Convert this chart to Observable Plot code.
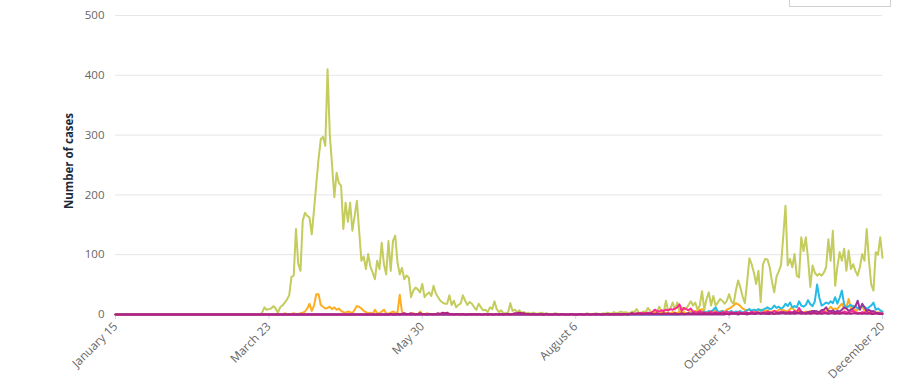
<!DOCTYPE html>
<html>
<head>
<meta charset="utf-8">
<script src="https://cdn.jsdelivr.net/npm/d3@7"></script>
<script src="https://cdn.jsdelivr.net/npm/@observablehq/plot@0.6"></script>
<style>
  html, body { margin: 0; padding: 0; background: #fff; }
  #wrap { position: relative; width: 901px; height: 390px; overflow: hidden; }
  #box { position: absolute; left: 789px; top: -20px; width: 100px; height: 25px; border: 1px solid #d0d0d0; background: #fff; }
</style>
</head>
<body>
<div id="wrap"><div id="box"></div></div>
<script>
// ---- data ----
const axisStart = "2020-01-15";
const axisEnd = "2020-12-20";
const xTickDates = ["2020-01-15", "2020-03-23", "2020-05-30", "2020-08-06", "2020-10-13", "2020-12-20"];
const yTicks = [0, 100, 200, 300, 400, 500];

// daily values, each list starts at its own date (earlier days are 0)
const greenStart = "2020-03-19";
const greenValues = [
  0, 3, 12, 8, 9, 10, 14, 10, 3, 12,
  15, 20, 25, 32, 63, 65, 143, 85, 73, 157,
  170, 165, 162, 134, 175, 218, 260, 293, 297, 282,
  410, 300, 250, 196, 237, 220, 215, 143, 187, 155,
  187, 140, 165, 190, 140, 90, 97, 76, 101, 80,
  70, 59, 90, 76, 120, 84, 67, 123, 73, 123,
  132, 87, 67, 78, 59, 65, 62, 29, 40, 45,
  42, 37, 51, 29, 34, 37, 31, 48, 35, 29,
  23, 20, 18, 18, 32, 16, 23, 12, 16, 18,
  32, 23, 16, 21, 18, 12, 8, 18, 12, 7,
  8, 4, 12, 9, 22, 9, 4, 7, 2, 2,
  3, 19, 6, 8, 4, 7, 3, 4, 2, 3,
  1, 3, 2, 1, 2, 3, 1, 2, 1, 0,
  1, 2, 1, 0, 1, 0, 1, 0, 1, 0,
  0, 1, 0, 1, 0, 2, 1, 0, 1, 2,
  1, 0, 2, 1, 3, 2, 1, 4, 2, 3,
  5, 3, 4, 3, 2, 5, 4, 9, 3, 2,
  5, 4, 11, 6, 3, 5, 4, 13, 6, 3,
  23, 6, 10, 20, 8, 20, 6, 12, 8, 10,
  16, 22, 15, 20, 8, 15, 39, 8, 26, 37,
  15, 31, 15, 20, 26, 23, 18, 23, 34, 22,
  18, 40, 57, 45, 30, 19, 55, 94, 84, 70,
  51, 73, 21, 84, 93, 92, 79, 55, 37, 63,
  72, 82, 130, 182, 82, 93, 79, 101, 65, 62,
  129, 106, 129, 93, 46, 82, 70, 65, 68, 65,
  70, 79, 126, 90, 140, 48, 80, 104, 90, 110,
  73, 107, 76, 84, 73, 65, 80, 101, 90, 143,
  90, 50, 40, 104, 100, 129, 95
];

const orangeEarlyStart = "2020-03-25";
const orangeEarlyValues = [
  0, 1, 0, 1, 0, 2, 1, 0, 1, 2,
  1, 1, 2, 3, 5, 10, 18, 6, 15, 34,
  34, 16, 13, 10, 11, 13, 9, 12, 8, 10,
  6, 4, 3, 5, 4, 2, 8, 14, 13, 10,
  6, 4, 2, 3, 1, 8, 2, 2, 5, 8,
  2, 1, 3, 5, 3, 3, 33, 4, 1, 0,
  1, 0, 2, 1, 0, 5, 1, 0, 2, 1,
  0, 1, 0, 0, 1, 0
];
const orangeLateStart = "2020-08-30";
const orangeLateValues = [
  0, 1, 0, 2, 1, 0, 2, 1, 3, 1,
  2, 3, 1, 2, 4, 2, 3, 1, 2, 4,
  3, 2, 5, 3, 4, 2, 3, 5, 4, 6,
  5, 8, 9, 5, 4, 3, 5, 6, 7, 4,
  5, 6, 5, 8, 10, 12, 15, 19, 17, 14,
  10, 8, 7, 8, 6, 7, 5, 6, 8, 7,
  6, 7, 4, 5, 6, 5, 8, 9, 7, 6,
  5, 9, 12, 7, 5, 6, 4, 3, 5, 4,
  6, 5, 4, 5, 4, 7, 5, 6,
  8, 13, 9, 10, 9, 14, 18, 10, 12, 26, 10, 15,
  6, 8, 10, 14, 6, 9, 5, 6, 3, 4, 3, 4, 2
];

const cyanStart = "2020-09-21";
const cyanValues = [
  0, 1, 0, 1, 2, 1, 3, 2, 4, 2,
  3, 5, 3, 6, 4, 8, 12, 5, 4, 6,
  3, 5, 4, 6, 3, 5, 4, 6, 3, 5,
  7, 9, 6, 8, 7, 9, 6, 8, 10, 12,
  9, 10, 15, 11, 13, 10, 12, 18, 14, 20,
  12, 14, 12, 22, 15, 13, 16, 24, 17, 14,
  22, 50, 28, 15, 17, 20, 18, 22, 19, 29,
  18, 28, 40, 17, 11, 14, 16, 13, 14, 10,
  12, 14, 13, 10, 12, 15, 20, 8, 10, 7, 5
];

const pinkStart = "2020-08-27";
const pinkValues = [
  0, 1, 0, 1, 2, 1, 2, 1, 3, 2,
  1, 3, 2, 4, 8, 6, 5, 7, 6, 8,
  7, 9, 8, 10, 12, 17, 6, 11, 9, 7,
  10, 5, 4, 3, 6, 4, 3, 2, 3, 5,
  2, 4, 3, 2, 4, 3, 5, 2, 4, 3,
  2, 4, 3, 2, 4, 3, 2, 5, 3, 4,
  3, 2, 4, 3, 5, 4, 3, 6, 4, 3,
  5, 4, 3, 4, 5, 3, 6, 4, 11, 4,
  3, 2, 4, 3, 2, 3, 2, 3, 4, 5,
  3, 4, 6, 3, 4, 3, 4, 3, 5, 4,
  3, 5, 6, 4, 3, 2, 4, 3, 5, 2,
  3, 1, 2, 3, 1, 2
];

const purpleStart = "2020-10-11";
const purpleValues = [
  0, 1, 0, 1, 2, 1, 0, 1, 2, 1,
  0, 1, 2, 1, 2, 3, 1, 2, 1, 2,
  3, 2, 1, 2, 3, 2, 4, 3, 2, 3,
  3, 4, 2, 3, 5, 2, 3, 4, 4, 6,
  6, 5, 4, 7, 8, 12, 6, 5, 7, 4,
  6, 5, 8, 12, 10, 6, 8, 10, 14, 23,
  8, 18, 12, 6, 8, 5, 6, 3, 2, 2, 1
];

const magentaStart = "2020-05-14";
const magentaValues = [
  0, 0, 1, 0, 0, 1, 0, 1, 2, 1,
  1, 2, 1, 0, 1, 2, 1, 1, 0, 1,
  1, 0, 1, 2, 1, 3, 2, 3, 1, 1,
  0, 1, 1, 0, 1, 0, 0, 1, 0, 1,
  0, 1, 0, 0, 1, 0, 1, 0, 0, 1,
  0, 1, 0, 1, 1, 0, 1, 2, 2, 3,
  2, 2, 1, 1, 0, 1, 0, 0, 1, 0,
  0, 1, 0, 0, 0, 1, 0, 0, 1, 0,
  0, 0, 1, 0, 0, 0, 1, 0, 0, 1,
  0, 0, 1, 0, 1, 0, 0, 1, 1, 0,
  1, 0, 1, 1, 0, 1, 1, 0, 1, 2,
  1, 1, 2, 1, 1, 2, 1, 2, 1, 1,
  2, 1, 1, 2, 1, 2, 1, 1, 2, 1,
  1, 2, 1, 1, 2, 1, 2, 1, 1, 2,
  1, 2, 1, 2, 1, 1, 2, 1, 2, 1,
  2, 1, 1, 2, 1, 2, 1, 2, 1, 1,
  2, 1, 2, 1, 1, 2, 1, 2, 2, 1,
  1, 2, 1, 2, 1, 2, 2, 1, 2, 1,
  2, 1, 2, 2, 1, 2, 1, 2, 1, 2,
  2, 1, 2, 1, 2, 2, 1, 2, 2, 1,
  2, 1, 2, 2, 1, 2, 1, 2, 2, 1,
  2, 1, 2, 1, 2, 1, 1, 2, 1, 1, 1
];

const seriesColors = {
  green: "#c3cc5c",
  orange: "#ffad1f",
  cyan: "#25bbe6",
  pink: "#ff2a90",
  purple: "#9c339c",
  magenta: "#b0237f"
};

// ---- build tables ----
const parse = d3.utcParse("%Y-%m-%d");
function seriesRows(name, segments) {
  const rows = [{series: name, date: parse(axisStart), value: 0}];
  for (const [start, values] of segments) {
    const s = parse(start);
    values.forEach((v, i) => rows.push({series: name, date: d3.utcDay.offset(s, i), value: v}));
  }
  return rows;
}
const table = [
  ...seriesRows("green", [[greenStart, greenValues]]),
  ...seriesRows("orange", [[orangeEarlyStart, orangeEarlyValues], [orangeLateStart, orangeLateValues]]),
  ...seriesRows("cyan", [[cyanStart, cyanValues]]),
  ...seriesRows("pink", [[pinkStart, pinkValues]]),
  ...seriesRows("purple", [[purpleStart, purpleValues]]),
  ...seriesRows("magenta", [[magentaStart, magentaValues]])
];
const order = ["green", "orange", "cyan", "pink", "purple", "magenta"];

const chart = Plot.plot({
  width: 901,
  height: 390,
  marginLeft: 115,
  marginRight: 19,
  marginTop: 15,
  marginBottom: 76,
  style: {fontFamily: "'Open Sans', sans-serif", fontSize: "11px", color: "#666", background: "#fff", overflow: "visible"},
  x: {type: "utc", domain: [parse(axisStart), parse(axisEnd)]},
  y: {domain: [0, 500]},
  marks: [
    Plot.gridY(yTicks, {stroke: "#e6e6e6", strokeOpacity: 1, strokeWidth: 1}),
    Plot.ruleY([0], {stroke: "#ccd6eb"}),
    Plot.axisY(yTicks, {tickSize: 0, tickPadding: 11, label: null, fill: "#666", fontSize: 11.5}),
    Plot.axisX(xTickDates.map(parse), {
      tickFormat: d3.utcFormat("%B %-d"),
      tickRotate: -45,
      tickSize: 5,
      tickPadding: 5,
      stroke: "#ccd6eb",
      fill: "#666",
      fontSize: 11.8,
      label: null
    }),
    ...order.map(name => Plot.line(table.filter(d => d.series === name), {
      x: "date", y: "value", stroke: seriesColors[name], strokeWidth: 2, curve: "linear"
    }))
  ]
});

const svg = d3.select(chart);
svg.append("text")
  .attr("transform", "translate(73,161) rotate(-90)")
  .attr("text-anchor", "middle")
  .attr("font-weight", "bold")
  .attr("font-size", "11.5px")
  .attr("fill", "#1c2b3a")
  .text("Number of cases");

document.getElementById("wrap").insertBefore(chart, document.getElementById("box"));
</script>
</body>
</html>
